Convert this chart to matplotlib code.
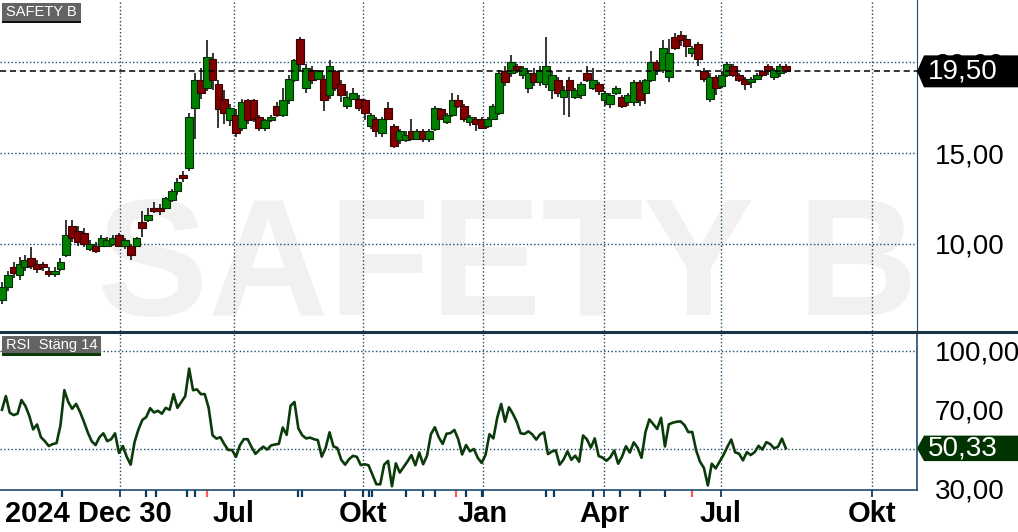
import numpy as np
import matplotlib.pyplot as plt
from matplotlib.patches import Polygon, Rectangle
from matplotlib.lines import Line2D
from matplotlib.ticker import FuncFormatter
from matplotlib.transforms import blended_transform_factory

plt.rcParams['font.family'] = ['Liberation Sans', 'DejaVu Sans']

# ---- data (one candle per ~3 trading days) ----
c_open = [6.9, 7.6, 8.7, 8.3, 8.7, 9.2, 8.9, 8.9, 8.5, 8.35, 8.6, 9.4, 11.0, 10.7, 10.6, 9.7, 9.9, 9.9, 9.9, 10.0,
          10.5, 9.9, 9.9, 9.9, 11.2, 11.3, 12.0, 12.0, 12.0, 12.4, 12.9, 13.8, 14.2, 17.5, 19.0, 18.6, 20.2, 18.8, 18.0, 16.8,
          17.1, 16.4, 17.9, 17.9, 17.0, 16.4, 16.8, 17.6, 17.1, 17.9, 19.0, 21.3, 18.6, 19.6, 19.1, 19.1, 18.2, 19.5, 18.8, 17.6,
          18.0, 18.0, 17.9, 16.5, 16.9, 16.1, 17.5, 16.5, 15.7, 15.7, 16.2, 15.8, 16.2, 15.8, 16.3, 17.4, 16.7, 17.1, 17.9, 17.6,
          16.7, 16.9, 16.9, 16.5, 16.9, 17.2, 19.5, 19.4, 19.8, 19.3, 18.6, 19.4, 18.9, 18.8, 18.5, 19.0, 18.1, 19.0, 18.1, 18.2,
          19.4, 18.6, 18.8, 17.9, 17.7, 18.3, 18.1, 17.8, 17.8, 18.9, 18.3, 19.0, 20.0, 19.6, 19.2, 21.4, 21.5, 21.3, 20.5, 21.0,
          19.5, 18.0, 19.2, 18.7, 19.3, 19.8, 19.3, 19.1, 18.9, 19.1, 19.5, 19.8, 19.2, 19.4, 19.8]
c_high = [7.9, 8.5, 9.0, 9.3, 9.4, 9.8, 9.1, 9.0, 8.7, 8.7, 9.2, 11.3, 11.3, 11.0, 10.9, 10.2, 10.1, 10.5, 10.4, 10.5,
          10.6, 10.3, 10.0, 10.4, 11.8, 12.0, 12.3, 12.2, 12.6, 13.0, 13.6, 14.0, 17.2, 19.4, 19.7, 21.2, 20.5, 19.0, 18.5, 17.7,
          17.4, 18.0, 18.0, 18.0, 17.1, 16.9, 17.1, 17.8, 18.6, 19.3, 20.2, 21.4, 19.9, 19.8, 19.6, 19.3, 20.1, 19.6, 19.0, 18.4,
          18.6, 18.2, 18.0, 17.2, 17.0, 17.0, 17.8, 16.6, 16.3, 16.2, 16.9, 16.3, 16.3, 16.3, 17.6, 17.5, 17.2, 18.3, 18.2, 17.7,
          17.1, 17.0, 17.0, 17.0, 17.7, 19.6, 19.8, 20.4, 19.9, 19.8, 19.5, 19.7, 19.8, 21.4, 19.5, 19.2, 18.7, 19.2, 18.6, 18.9,
          19.8, 19.7, 18.9, 18.4, 18.3, 18.7, 18.2, 18.3, 19.0, 19.0, 19.1, 20.6, 20.1, 21.2, 21.3, 21.6, 21.7, 21.5, 20.9, 21.1,
          19.7, 19.4, 19.3, 19.5, 20.0, 19.9, 19.4, 19.2, 19.2, 19.4, 19.6, 19.9, 19.7, 19.9, 19.9]
c_low = [6.7, 7.4, 8.1, 8.0, 8.5, 8.6, 8.4, 8.5, 8.2, 8.2, 8.5, 9.3, 10.1, 9.9, 9.8, 9.6, 9.5, 9.8, 9.8, 9.9,
         9.8, 9.7, 9.1, 9.8, 10.4, 11.2, 11.7, 11.6, 11.9, 12.3, 12.7, 13.4, 14.0, 15.8, 18.0, 18.4, 18.5, 16.4, 16.6, 16.5,
         15.9, 16.2, 16.6, 16.7, 16.2, 16.2, 16.7, 17.0, 17.0, 17.7, 18.9, 19.5, 18.3, 18.8, 19.0, 17.3, 18.0, 18.4, 17.8, 17.4,
         17.9, 17.3, 16.8, 16.3, 15.9, 15.9, 16.8, 15.3, 15.5, 15.6, 15.7, 15.7, 15.6, 15.6, 16.2, 16.8, 16.6, 17.0, 17.5, 16.7,
         16.5, 16.2, 16.3, 16.4, 16.8, 17.1, 18.7, 19.2, 19.4, 19.1, 18.3, 18.7, 18.7, 18.6, 18.0, 18.1, 17.1, 17.0, 18.0, 18.0,
         18.9, 18.5, 18.2, 17.6, 17.5, 18.2, 17.5, 17.6, 17.6, 17.6, 17.7, 18.9, 19.3, 19.4, 18.9, 20.7, 20.9, 20.3, 20.3, 19.8,
         18.9, 17.8, 18.2, 18.6, 19.2, 19.2, 18.9, 18.5, 18.6, 19.0, 19.2, 19.3, 19.0, 19.2, 19.4]
c_close = [7.6, 8.3, 8.4, 8.9, 9.1, 8.8, 8.6, 8.7, 8.35, 8.5, 9.0, 10.5, 10.3, 10.1, 10.0, 10.0, 9.6, 10.3, 10.2, 10.3,
           9.9, 10.2, 9.4, 10.3, 10.9, 11.6, 11.8, 11.8, 12.5, 12.9, 13.4, 13.6, 17.0, 19.0, 18.3, 20.3, 19.0, 17.4, 17.2, 17.5,
           16.1, 17.8, 16.8, 16.9, 16.4, 16.8, 17.0, 17.1, 17.9, 19.1, 20.1, 19.9, 19.7, 19.0, 19.5, 17.9, 19.8, 18.6, 18.2, 18.1,
           18.3, 17.5, 17.2, 17.1, 16.2, 16.9, 16.9, 15.4, 16.2, 16.0, 15.8, 16.2, 15.8, 16.2, 17.5, 16.9, 17.1, 17.9, 17.6, 16.9,
           17.0, 16.6, 16.4, 16.9, 17.6, 19.4, 18.9, 20.0, 19.6, 19.7, 19.4, 18.9, 19.6, 19.8, 19.3, 18.3, 18.5, 18.5, 18.5, 18.8,
           19.0, 19.0, 18.4, 18.3, 18.2, 18.6, 17.6, 18.2, 18.9, 17.9, 19.0, 20.0, 19.6, 20.8, 20.5, 20.8, 21.2, 20.9, 20.8, 20.2,
           19.1, 19.2, 18.6, 19.3, 19.9, 19.3, 19.0, 18.8, 19.1, 19.3, 19.3, 19.5, 19.6, 19.8, 19.5]

# RSI (close, 14), one value per 2 trading days
rsi = [70, 77, 68.5, 67.3, 68, 75, 72, 67, 60, 62.5, 56, 54, 51.5, 52.5, 53, 62, 80, 74, 70.5, 73,
       69, 64, 58.5, 54, 52, 56, 58, 54, 55, 58, 48, 51.5, 46, 42, 53.5, 60, 64.8, 66.3, 70.8, 68.6,
       69.5, 68, 71, 70, 78, 71, 74, 77, 91, 80, 80.4, 78, 78, 71, 57, 55.3, 56, 52.5, 49.5, 49.5,
       46, 51.8, 55, 55, 51, 47.5, 49.5, 51.2, 49.7, 51.8, 52.3, 52.6, 61, 57.2, 72, 74, 60.5, 57, 55.4, 55.8,
       55, 54.5, 46.1, 50.6, 58.5, 51.3, 50.5, 44.5, 42, 44.8, 46.5, 46, 41.8, 42.2, 41.7, 36.8, 32, 32, 42, 43.9,
       31, 42.7, 38, 40.8, 43.7, 46.9, 41.7, 48.2, 42.2, 46.6, 57.6, 61.1, 56, 52.6, 57.8, 58.1, 59.7, 55, 47.2, 52,
       48.8, 50, 45.5, 42.9, 47, 57.5, 55.4, 66, 73, 63.9, 71.3, 68, 63.9, 58, 57.7, 59, 57.4, 54.8, 57.5, 58.5,
       47.4, 48.7, 49.3, 42, 44.6, 48.8, 44.5, 46.6, 43.5, 56.9, 54.9, 50.7, 55.4, 46.4, 45.6, 44, 45.8, 49.2, 42.5, 46.1,
       51.4, 48.2, 53.4, 50.6, 45.5, 58.6, 65.1, 62.7, 60.2, 65.9, 51.3, 62.6, 63.4, 63.9, 64.1, 62.2, 58.6, 58.7, 49.3, 43.5,
       40.3, 31.4, 42.5, 40.1, 43.5, 46.9, 51.1, 54.8, 48.3, 47.6, 44.2, 48.4, 46.9, 48.4, 51.6, 49.7, 53.5, 52.5, 50.3, 51.2,
       55.3, 50.33]

# quarter starts (trading-day index) and their labels
quarter_days = [61.5, 120, 186.2, 247.7, 309.7, 369.7, 447.2]
quarter_labels = ['', 'Jul', 'Okt', 'Jan', 'Apr', 'Jul', 'Okt']
# event markers below the time axis (trading-day index)
events_blue = [32, 75, 80, 96, 100, 153, 155, 177, 186, 189, 191, 208, 217, 223, 239, 247,
               280, 284, 304, 318, 328, 341]
events_red = [106, 234, 355]

# ---- layout ----
W, H = 1018, 532
PX_DAY = 1.95
PLOT_W = 917
GRID = '#1d4a66'
NAVY = '#1f4a70'

fig = plt.figure(figsize=(W / 100, H / 100), dpi=100)
ax1 = fig.add_axes([0, 201 / H, PLOT_W / W, 331 / H])
ax2 = fig.add_axes([0, 42 / H, PLOT_W / W, 157 / H], sharex=ax1)

c_open, c_high, c_low, c_close = map(np.array, (c_open, c_high, c_low, c_close))
days_c = 1 + 3 * np.arange(len(c_close))
days_r = 1 + 2 * np.arange(len(rsi))
fmt = FuncFormatter(lambda v, p: f"{v:.2f}".replace('.', ','))

# price panel
ax1.text(0.553, 0.048, 'SAFETY B', transform=ax1.transAxes, ha='center', va='baseline',
         fontsize=120, fontweight='bold', color='#f1f1f1', zorder=0)
up = c_close >= c_open
ax1.vlines(days_c, c_low, c_high, color='black', lw=1.1, zorder=2)
ax1.bar(days_c, np.maximum(np.abs(c_close - c_open), 0.06), bottom=np.minimum(c_open, c_close),
        width=4.0, color=np.where(up, '#008000', '#800000'),
        edgecolor=np.where(up, '#003000', '#3a0000'), linewidth=0.8, zorder=3)
ax1.axhline(c_close[-1], color='black', ls=(0, (4, 2.5)), lw=1.1, zorder=4)

ax1.set_xlim(0, PLOT_W / PX_DAY)
ax1.set_ylim(5.2, 23.43)
ax1.set_xticks(quarter_days)
ax1.set_yticks([10, 15, 20])
ax1.yaxis.set_major_formatter(fmt)
ax1.yaxis.tick_right()
ax1.grid(True, linestyle=':', color=GRID, lw=1)
ax1.tick_params(axis='x', length=0, labelbottom=False)
ax1.tick_params(axis='y', length=0, labelsize=20, pad=13)
for s in ['top', 'left', 'bottom']:
    ax1.spines[s].set_visible(False)
ax1.spines['right'].set_color(NAVY)

# RSI panel
ax2.plot(days_r, rsi, color='#0b3a0b', lw=1.9, zorder=3)
for lvl in (100, 50):
    ax2.axhline(lvl, linestyle=':', color=GRID, lw=1)
ax2.set_ylim(29.08, 109.18)
ax2.set_yticks([30, 70, 100])
ax2.yaxis.set_major_formatter(fmt)
ax2.yaxis.tick_right()
ax2.set_xticks(quarter_days)
ax2.set_xticklabels(quarter_labels)
ax2.grid(True, axis='x', linestyle=':', color=GRID, lw=1)
ax2.tick_params(axis='y', length=0, labelsize=20, pad=13)
ax2.tick_params(axis='x', length=5, width=1.4, color=NAVY, pad=2.2, labelsize=21)
for lab in ax2.get_xticklabels():
    lab.set_fontweight('bold')
for s in ['top', 'left']:
    ax2.spines[s].set_visible(False)
for s in ['right', 'bottom']:
    ax2.spines[s].set_color(NAVY)
    ax2.spines[s].set_linewidth(1.2)

tr = blended_transform_factory(ax2.transData, ax2.transAxes)
ax2.vlines(events_blue, -0.045, 0, transform=tr, color='#0d3a5a', lw=1.6, clip_on=False)
ax2.vlines(events_red, -0.045, 0, transform=tr, color='#ff5a5a', lw=1.6, clip_on=False)


def value_tag(ax, value, face, half):
    t = blended_transform_factory(ax.transAxes, ax.transData)
    x0, x1, x2 = 1.0, 1.0 + 7 / PLOT_W, W / PLOT_W
    ax.add_patch(Polygon([[x0, value], [x1, value + half], [x2, value + half],
                          [x2, value - half], [x1, value - half]], closed=True,
                         transform=t, clip_on=False, facecolor=face, edgecolor='none', zorder=10))
    ax.text(1.012, value, f"{value:.2f}".replace('.', ','), transform=t, color='white',
            fontsize=20, va='center', ha='left', zorder=11, clip_on=False)


value_tag(ax1, c_close[-1], 'black', 0.88)
value_tag(ax2, rsi[-1], '#003300', 6.5)

# overlay in pixel coordinates for labels and separator
ov = fig.add_axes([0, 0, 1, 1], zorder=20)
ov.set_xlim(0, W)
ov.set_ylim(H, 0)
ov.axis('off')
ov.add_line(Line2D([0, W], [332, 332], color='#1b3445', lw=2.2))
ov.add_patch(Rectangle((2, 3), 79, 17.7, facecolor='#646464', edgecolor='none'))
ov.add_patch(Rectangle((2, 20.7), 79, 2.2, facecolor='#111111', edgecolor='none'))
ov.text(6.5, 12, 'SAFETY B', color='white', fontsize=10.5, va='center', ha='left')
ov.add_patch(Rectangle((2, 336), 99, 17.3, facecolor='#646464', edgecolor='none'))
ov.add_patch(Rectangle((2, 353.3), 99, 2.4, facecolor='#0b3a0b', edgecolor='none'))
ov.text(6.5, 345, 'RSI  Stäng 14', color='white', fontsize=10.5, va='center', ha='left')
ov.text(5, 500, '2024 Dec 30', color='black', fontsize=21, fontweight='bold', va='top', ha='left')

fig.savefig('out.png', dpi=100)
